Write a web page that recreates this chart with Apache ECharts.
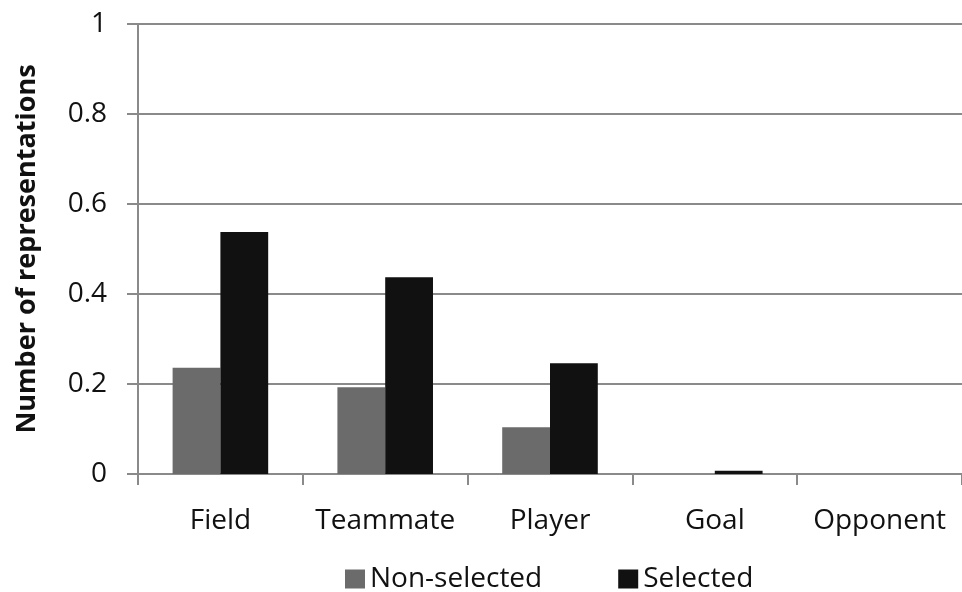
<!DOCTYPE html>
<html>
<head>
<meta charset="utf-8">
<script src="https://cdn.jsdelivr.net/npm/echarts@6/dist/echarts.min.js"></script>
<style>
  html, body { margin: 0; padding: 0; background: #fff; }
  #chart { width: 962px; height: 592px; }
</style>
</head>
<body>
<div id="chart"></div>
<script>
var categories = ['Field', 'Teammate', 'Player', 'Goal', 'Opponent'];
var nonSelected = [0.236, 0.193, 0.104, 0, 0];
var selected = [0.538, 0.437, 0.246, 0.007, 0];
var yTicks = [0, 0.2, 0.4, 0.6, 0.8, 1];

var font = '"Open Sans", "Noto Sans", sans-serif';
var chart = echarts.init(document.getElementById('chart'));

chart.setOption({
  animation: false,
  textStyle: { fontFamily: font },
  grid: { left: 138, right: -8, top: 24, bottom: 118 },
  legend: {
    bottom: -6,
    left: 340,
    itemWidth: 20,
    itemHeight: 19,
    itemGap: 76,
    icon: 'rect',
    textStyle: { fontSize: 28, color: '#111', fontFamily: font },
    data: ['Non-selected', 'Selected']
  },
  xAxis: {
    type: 'category',
    data: categories,
    axisLine: { lineStyle: { color: '#8a8a8a', width: 2 } },
    axisTick: { show: true, interval: 0, length: 11, lineStyle: { color: '#8a8a8a', width: 2 } },
    axisLabel: { interval: 0, fontSize: 28, color: '#111', margin: 33, fontFamily: font }
  },
  yAxis: {
    type: 'value',
    min: 0,
    max: 1,
    interval: 0.2,
    name: 'Number of representations',
    nameLocation: 'middle',
    nameGap: 97,
    nameTextStyle: { fontSize: 27, fontWeight: 'bold', color: '#111', fontFamily: font },
    axisLine: { show: true, lineStyle: { color: '#8a8a8a', width: 2 } },
    axisTick: { show: true, length: 11, lineStyle: { color: '#8a8a8a', width: 2 } },
    splitLine: { lineStyle: { color: '#8a8a8a', width: 2 } },
    axisLabel: {
      fontSize: 28, color: '#111', margin: 31, fontFamily: font,
      formatter: function (v) {
        var i = yTicks.indexOf(Math.round(v * 10) / 10);
        return i >= 0 ? String(yTicks[i]) : '';
      }
    }
  },
  series: [
    {
      name: 'Non-selected',
      type: 'bar',
      data: nonSelected,
      barWidth: '29%',
      barGap: '0%',
      itemStyle: { color: '#6b6b6b' }
    },
    {
      name: 'Selected',
      type: 'bar',
      data: selected,
      barWidth: '29%',
      itemStyle: { color: '#111111' }
    }
  ]
});
</script>
</body>
</html>
